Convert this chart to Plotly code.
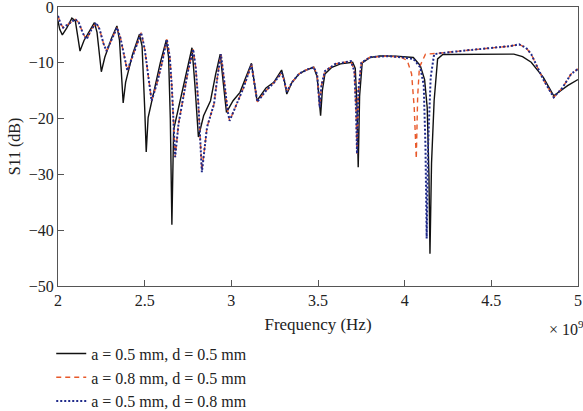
import plotly.graph_objects as go

# Frequency in units of 1e9 Hz, S11 in dB
f_a05_d05 = [2.000, 2.010, 2.025, 2.050, 2.080, 2.100, 2.115, 2.127, 2.150, 2.185, 2.210, 2.225, 2.240, 2.250,
             2.270, 2.310, 2.340, 2.355, 2.368, 2.376, 2.390, 2.430, 2.470, 2.485, 2.500, 2.509, 2.520, 2.550,
             2.590, 2.625, 2.638, 2.648, 2.657, 2.667, 2.705, 2.740, 2.773, 2.790, 2.810, 2.840, 2.880, 2.910,
             2.936, 2.955, 2.972, 3.010, 3.050, 3.085, 3.116, 3.135, 3.148, 3.200, 3.245, 3.290, 3.305, 3.320,
             3.350, 3.390, 3.430, 3.475, 3.495, 3.508, 3.515, 3.525, 3.540, 3.580, 3.630, 3.700, 3.715, 3.725,
             3.732, 3.740, 3.755, 3.800, 3.860, 3.950, 4.050, 4.090, 4.115, 4.130, 4.140, 4.146, 4.155, 4.170,
             4.190, 4.220, 4.400, 4.630, 4.680, 4.730, 4.800, 4.860, 4.940, 5.000]
s_a05_d05 = [-2.5, -4.0, -5.0, -3.8, -2.0, -2.5, -5.5, -7.9, -6.0, -4.0, -2.8, -4.5, -9.0, -11.6,
             -9.0, -5.5, -3.4, -6.0, -13.0, -17.2, -13.5, -8.5, -4.9, -7.0, -18.0, -26.0, -19.8, -15.6,
             -10.0, -5.9, -9.0, -20.0, -39.0, -22.0, -16.8, -11.5, -7.3, -14.0, -23.3, -19.5, -16.8, -12.0,
             -8.45, -14.0, -18.9, -16.8, -15.3, -12.5, -10.1, -14.0, -16.8, -14.5, -13.5, -11.3, -13.0, -15.6,
             -13.5, -12.0, -11.3, -10.8, -12.5, -17.0, -19.5, -15.0, -12.0, -10.8, -10.2, -9.9, -11.0, -18.0,
             -28.7, -16.0, -10.0, -9.05, -8.75, -8.8, -9.05, -10.5, -13.0, -18.0, -30.0, -44.2, -28.0, -16.8,
             -9.3, -8.5, -8.45, -8.45, -8.9, -9.9, -12.6, -15.9, -14.1, -13.0]

f_a08_d05 = [2.000, 2.015, 2.030, 2.060, 2.100, 2.120, 2.145, 2.165, 2.190, 2.220, 2.240, 2.262, 2.280, 2.310,
             2.340, 2.360, 2.385, 2.400, 2.440, 2.480, 2.500, 2.525, 2.540, 2.570, 2.600, 2.628, 2.645, 2.657,
             2.668, 2.676, 2.695, 2.720, 2.750, 2.780, 2.795, 2.810, 2.822, 2.830, 2.860, 2.900, 2.920, 2.940,
             2.960, 2.978, 2.990, 3.030, 3.070, 3.116, 3.135, 3.150, 3.200, 3.245, 3.290, 3.305, 3.320, 3.350,
             3.390, 3.430, 3.475, 3.495, 3.510, 3.520, 3.540, 3.600, 3.690, 3.710, 3.720, 3.725, 3.733, 3.750,
             3.800, 3.900, 3.980, 4.015, 4.040, 4.055, 4.067, 4.075, 4.085, 4.120, 4.190, 4.380, 4.610, 4.660,
             4.700, 4.730, 4.800, 4.860, 4.910, 4.960, 5.000]
s_a08_d05 = [-1.6, -3.0, -3.7, -3.0, -2.2, -2.8, -4.8, -5.8, -4.2, -2.8, -4.0, -6.5, -7.9, -5.8,
             -3.7, -5.5, -9.5, -11.4, -8.0, -4.6, -7.5, -13.5, -16.8, -13.8, -10.0, -5.8, -9.0, -14.4,
             -22.0, -26.9, -21.0, -16.8, -11.5, -7.6, -11.0, -17.4, -25.0, -29.3, -21.5, -17.4, -12.5, -8.45,
             -13.5, -18.5, -20.4, -17.4, -14.5, -10.3, -14.0, -17.0, -15.0, -13.6, -11.8, -13.2, -15.2, -13.5,
             -12.0, -11.3, -10.8, -12.0, -18.0, -14.0, -11.5, -10.2, -9.7, -11.5, -19.0, -26.3, -15.0, -10.0,
             -9.0, -8.8, -9.0, -9.6, -12.0, -18.0, -27.2, -16.0, -10.8, -8.45, -8.3, -7.7, -7.0, -6.7,
             -7.3, -8.45, -13.0, -16.2, -14.5, -12.0, -11.1]

f_a05_d08 = [2.000, 2.015, 2.030, 2.060, 2.100, 2.120, 2.145, 2.165, 2.190, 2.220, 2.240, 2.262, 2.280, 2.310,
             2.340, 2.360, 2.385, 2.400, 2.440, 2.480, 2.500, 2.525, 2.540, 2.570, 2.600, 2.628, 2.645, 2.657,
             2.668, 2.676, 2.695, 2.720, 2.750, 2.780, 2.795, 2.810, 2.822, 2.830, 2.860, 2.900, 2.920, 2.940,
             2.960, 2.978, 2.990, 3.030, 3.070, 3.116, 3.135, 3.150, 3.200, 3.245, 3.290, 3.305, 3.320, 3.350,
             3.390, 3.430, 3.475, 3.495, 3.510, 3.520, 3.540, 3.600, 3.690, 3.710, 3.720, 3.725, 3.733, 3.750,
             3.800, 3.900, 3.980, 4.050, 4.090, 4.110, 4.120, 4.127, 4.135, 4.150, 4.170, 4.200, 4.380, 4.610,
             4.660, 4.700, 4.730, 4.800, 4.860, 4.910, 4.960, 5.000]
s_a05_d08 = [-1.6, -3.0, -3.7, -3.0, -2.2, -2.8, -4.8, -5.8, -4.2, -2.8, -4.0, -6.5, -7.9, -5.8,
             -3.7, -5.5, -9.5, -11.4, -8.0, -4.6, -7.5, -13.5, -16.8, -13.8, -10.0, -5.8, -9.0, -14.4,
             -22.0, -26.9, -21.0, -16.8, -11.5, -7.6, -11.0, -17.4, -25.0, -29.6, -21.5, -17.4, -12.5, -8.45,
             -13.5, -18.5, -20.4, -17.4, -14.5, -10.3, -14.0, -17.0, -15.0, -13.6, -11.8, -13.2, -15.2, -13.5,
             -12.0, -11.3, -10.8, -12.0, -18.0, -14.0, -11.5, -10.2, -9.7, -11.5, -19.0, -26.3, -15.0, -10.0,
             -9.0, -8.8, -9.0, -9.3, -10.8, -14.0, -25.0, -41.5, -25.0, -12.6, -8.45, -8.3, -7.7, -7.0,
             -6.7, -7.3, -8.45, -13.0, -16.2, -14.5, -12.0, -11.1]

series_names = ["a = 0.5 mm, d = 0.5 mm", "a = 0.8 mm, d = 0.5 mm", "a = 0.5 mm, d = 0.8 mm"]

x_ticks = [2, 2.5, 3, 3.5, 4, 4.5, 5]
x_tick_labels = ["2", "2.5", "3", "3.5", "4", "4.5", "5"]
y_ticks = [0, -10, -20, -30, -40, -50]

FONT = "Liberation Serif, Times New Roman, serif"
TXT = "#222222"

fig = go.Figure()
fig.add_trace(go.Scatter(x=f_a05_d05, y=s_a05_d05, mode="lines", name=series_names[0],
                         line=dict(color="#111111", width=1.4, dash="solid")))
fig.add_trace(go.Scatter(x=f_a08_d05, y=s_a08_d05, mode="lines", name=series_names[1],
                         line=dict(color="#e8592a", width=1.4, dash="5px,4px")))
fig.add_trace(go.Scatter(x=f_a05_d08, y=s_a05_d08, mode="lines", name=series_names[2],
                         line=dict(color="#1f2a8a", width=2, dash="2px,2px")))

axis_common = dict(showline=True, linecolor="#555555", linewidth=1.2, mirror=True,
                   ticks="inside", ticklen=6, tickcolor="#555555", showgrid=False, zeroline=False,
                   ticklabeloverflow="allow",
                   tickfont=dict(family=FONT, size=16, color=TXT))

fig.update_xaxes(range=[2, 5], tickvals=x_ticks, ticktext=x_tick_labels,
                 title=dict(text="Frequency (Hz)", font=dict(family=FONT, size=17, color=TXT), standoff=9),
                 **axis_common)
fig.update_yaxes(range=[-50, 0], tickvals=y_ticks,
                 title=dict(text="S11 (dB)", font=dict(family=FONT, size=16, color=TXT), standoff=4),
                 **axis_common)

fig.add_annotation(text="× 10<sup>9</sup>", xref="paper", yref="paper", x=0.94, y=-0.15,
                   xanchor="left", yanchor="middle", showarrow=False,
                   font=dict(family=FONT, size=16, color=TXT))

fig.update_layout(
    width=583, height=411,
    margin=dict(l=58, r=5, t=7, b=125, autoexpand=False),
    paper_bgcolor="white", plot_bgcolor="white",
    font=dict(family=FONT, size=16, color=TXT),
    showlegend=True,
    legend=dict(x=-0.013, y=0.181, xref="paper", yref="container", xanchor="left", yanchor="top",
                orientation="v", itemwidth=30,
                bgcolor="rgba(0,0,0,0)", font=dict(family=FONT, size=16, color=TXT)),
)

fig.write_html("out.html")
